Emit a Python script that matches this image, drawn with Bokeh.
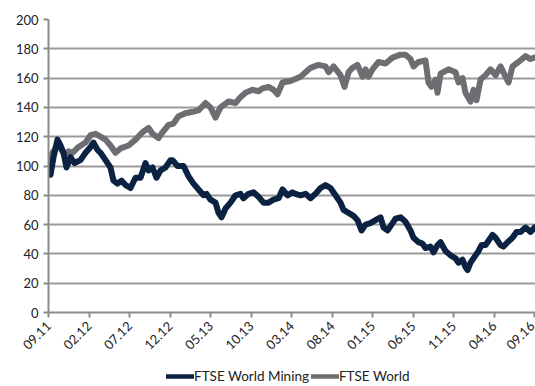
import numpy as np
from bokeh.plotting import figure
from bokeh.layouts import column
from bokeh.models import FixedTicker, Legend, LegendItem
from bokeh.embed import file_html
from bokeh.resources import INLINE

# months since Sep 2011
tick_months = [0, 5, 10, 15, 20, 25, 30, 35, 40, 45, 50, 55, 60]
tick_labels = ["09.11", "02.12", "07.12", "12.12", "05.13", "10.13", "03.14",
               "08.14", "01.15", "06.15", "11.15", "04.16", "09.16"]

world_month = [0.0, 0.49, 0.99, 1.48, 1.98, 2.47, 2.96, 3.70, 4.57, 5.19, 5.80, 6.42,
               7.04, 7.65, 8.27, 8.89, 9.88, 10.74, 11.60, 12.35, 12.84, 13.58, 14.07,
               14.81, 15.43, 16.05, 16.91, 17.78, 18.52, 19.38, 20.00, 20.62, 21.23,
               22.22, 23.09, 23.70, 24.32, 25.19, 25.93, 26.42, 27.16, 27.78, 28.27,
               28.89, 29.88, 31.11, 32.35, 33.33, 34.20, 34.57, 35.19, 36.05, 36.54,
               37.04, 37.53, 38.15, 38.77, 39.14, 39.51, 40.00, 40.74, 41.60, 42.47,
               43.46, 44.07, 44.69, 45.06, 45.68, 46.54, 46.91, 47.28, 47.78, 48.02,
               48.40, 49.38, 50.25, 50.62, 51.11, 51.48, 52.10, 52.47, 52.84, 53.33,
               53.95, 54.57, 55.19, 55.80, 56.42, 56.79, 57.28, 58.02, 58.89, 59.51, 60.0]
world_value = [102, 109, 113, 112, 108, 110, 109, 113, 116, 121, 122, 120,
               118, 114, 109, 112, 114, 118, 123, 126, 122, 119, 123,
               128, 129, 134, 136, 137, 138, 143, 140, 133, 140,
               144, 143, 147, 150, 152, 151, 153, 154, 152, 149,
               157, 158, 161, 167, 169, 168, 164, 168, 162, 154,
               164, 167, 169, 161, 166, 161, 166, 171, 170, 174,
               176, 176, 173, 168, 171, 172, 157, 154, 159, 150,
               163, 166, 164, 157, 160, 150, 144, 152, 145, 159,
               162, 166, 162, 168, 161, 157, 168, 171, 175, 173, 174]

mining_month = [0.0, 0.25, 0.62, 1.11, 1.48, 1.85, 2.22, 2.72, 3.21, 3.95, 4.57, 5.19,
                5.56, 6.05, 6.42, 7.04, 7.65, 8.02, 8.52, 9.01, 9.51, 10.12, 10.74,
                11.36, 11.98, 12.35, 12.84, 13.33, 13.83, 14.44, 15.06, 15.31, 15.93,
                16.67, 17.28, 17.90, 18.52, 19.14, 19.51, 20.00, 20.62, 20.99, 21.36,
                21.85, 22.47, 23.09, 23.70, 24.07, 24.69, 25.31, 25.93, 26.54, 27.16,
                27.78, 28.40, 28.89, 29.51, 30.12, 30.49, 31.11, 31.73, 32.35, 32.96,
                33.58, 34.20, 34.81, 35.43, 36.05, 36.42, 37.04, 37.65, 38.15, 38.64,
                39.14, 39.75, 40.37, 40.99, 41.36, 41.85, 42.35, 42.84, 43.46, 44.07,
                44.69, 45.06, 45.68, 46.17, 46.54, 47.16, 47.53, 48.02, 48.40, 49.01,
                49.63, 50.25, 50.62, 51.11, 51.48, 51.73, 52.10, 52.59, 53.09, 53.46,
                53.95, 54.32, 54.81, 55.19, 55.80, 56.17, 56.67, 57.28, 57.78, 58.27,
                58.89, 59.51, 60.0]
mining_value = [99, 94, 106, 118, 114, 109, 99, 106, 102, 104, 109, 113,
                116, 111, 109, 104, 99, 90, 88, 90, 87, 85, 92,
                92, 102, 97, 99, 92, 97, 99, 104, 104, 100,
                100, 93, 88, 84, 80, 81, 77, 75, 68, 65,
                71, 75, 80, 81, 78, 81, 82, 79, 75, 75,
                77, 78, 84, 80, 82, 81, 80, 81, 78, 81,
                85, 87, 85, 80, 75, 70, 68, 66, 63, 56,
                60, 61, 63, 65, 58, 56, 60, 64, 65, 62,
                56, 51, 48, 47, 44, 45, 41, 46, 48, 42,
                39, 37, 34, 36, 31, 29, 34, 38, 42, 46,
                46, 49, 53, 51, 46, 45, 48, 51, 55, 55,
                58, 55, 58]

series_names = ["FTSE World Mining", "FTSE World"]
NAVY = "#0b2242"
GREY = "#6d6e71"
FONT = "Lato"
LW = 6

p = figure(width=535, height=362, output_backend="svg", toolbar_location=None,
           x_range=(0, 60.12), y_range=(0, 200),
           min_border_left=48, min_border_right=0, min_border_top=19,
           min_border_bottom=50)
p.outline_line_color = None
p.background_fill_color = "white"
p.border_fill_color = "white"

p.line(world_month, world_value, line_color=GREY, line_width=LW,
       line_join="round", line_cap="round")
p.line(mining_month, mining_value, line_color=NAVY, line_width=LW,
       line_join="round", line_cap="round")

p.xaxis.ticker = FixedTicker(ticks=tick_months)
p.xaxis.major_label_overrides = {m: l for m, l in zip(tick_months, tick_labels)}
p.xaxis.major_label_orientation = np.pi / 4
p.yaxis.ticker = FixedTicker(ticks=list(range(0, 201, 20)))

for ax in (p.xaxis, p.yaxis):
    ax.axis_line_color = "#8c8c8c"
    ax.axis_line_width = 2
    ax.major_tick_line_color = "#8c8c8c"
    ax.major_tick_line_width = 2
    ax.major_tick_out = 5
    ax.major_tick_in = 0
    ax.minor_tick_line_color = None
    ax.major_label_text_font = FONT
    ax.major_label_text_font_size = "13px"
    ax.major_label_text_color = "#222222"
p.yaxis.major_label_standoff = 5
p.xaxis.major_label_standoff = 6

p.xgrid.grid_line_color = None
p.ygrid.grid_line_color = "#9a9a9a"
p.ygrid.grid_line_width = 2

# legend strip below the chart
lg = figure(width=535, height=24, output_backend="svg", toolbar_location=None,
            x_range=(0, 1), y_range=(0, 1), min_border=0,
            x_axis_location=None, y_axis_location=None)
lg.outline_line_color = None
lg.grid.visible = False
lr_mining = lg.line([-5, -4], [-5, -5], line_color=NAVY, line_width=4.5, line_cap="round")
lr_world = lg.line([-5, -4], [-5, -5], line_color=GREY, line_width=4.5, line_cap="round")
legend = Legend(items=[LegendItem(label=series_names[0], renderers=[lr_mining]),
                       LegendItem(label=series_names[1], renderers=[lr_world])],
                orientation="horizontal", location=(118, 2),
                label_text_font=FONT, label_text_font_size="13.5px",
                label_text_color="#222222", label_standoff=0,
                glyph_width=28, glyph_height=14, spacing=2, padding=0, margin=0,
                border_line_alpha=0, background_fill_alpha=0)
lg.add_layout(legend, "center")

layout = column(p, lg, spacing=0)
open("out.html", "w").write(file_html(layout, INLINE))
